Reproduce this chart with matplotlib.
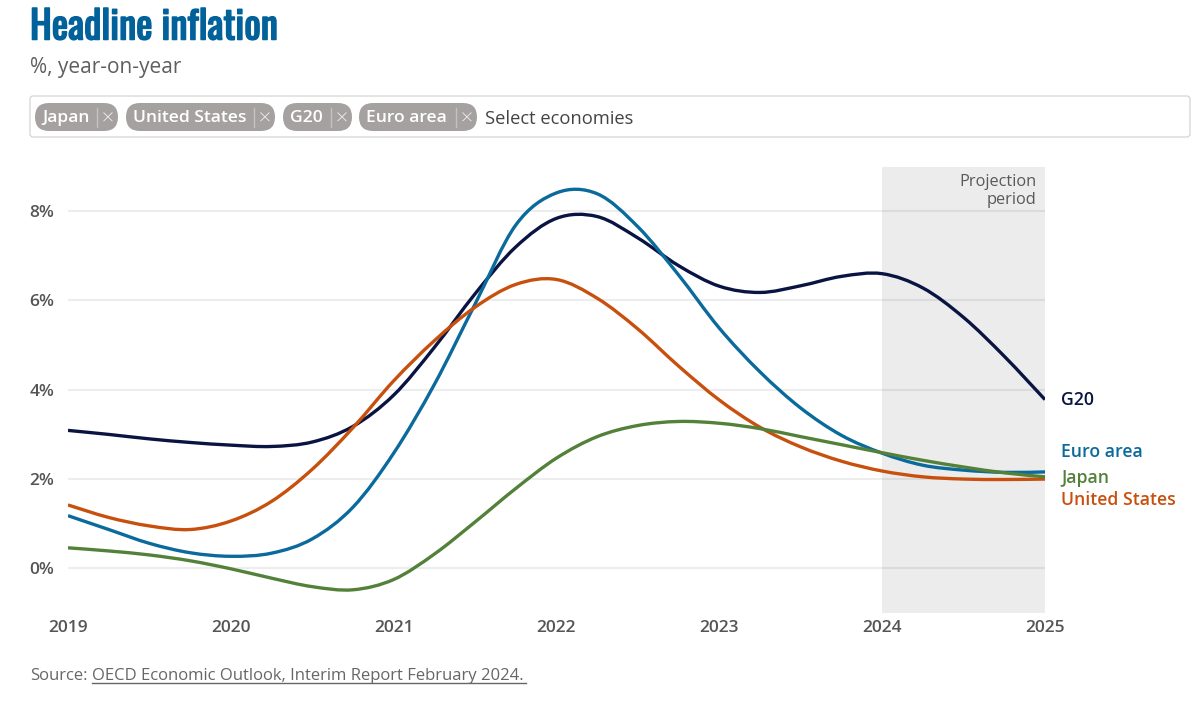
import matplotlib
matplotlib.use('Agg')
import matplotlib.pyplot as plt
import matplotlib.patheffects as pe
from matplotlib.patches import FancyBboxPatch, PathPatch
from matplotlib.path import Path
import numpy as np

# --- Data (quarterly) ---
quarters = [2019 + i * 0.25 for i in range(25)]
g20 = [3.09, 3.00, 2.90, 2.82, 2.76, 2.73, 2.83, 3.18, 3.88, 4.95, 6.15, 7.20, 7.84,
       7.88, 7.40, 6.78, 6.32, 6.18, 6.33, 6.54, 6.60, 6.28, 5.62, 4.75, 3.78]
euro_area = [1.18, 0.87, 0.56, 0.35, 0.27, 0.34, 0.66, 1.37, 2.58, 4.12, 5.92, 7.69, 8.41,
             8.39, 7.65, 6.57, 5.38, 4.40, 3.59, 2.98, 2.58, 2.31, 2.20, 2.15, 2.16]
united_states = [1.42, 1.14, 0.95, 0.87, 1.06, 1.50, 2.22, 3.15, 4.20, 5.10, 5.85, 6.36, 6.47,
                 6.05, 5.36, 4.53, 3.77, 3.16, 2.72, 2.40, 2.18, 2.05, 2.00, 1.99, 2.00]
japan = [0.46, 0.39, 0.30, 0.17, -0.01, -0.22, -0.41, -0.48, -0.25, 0.32, 1.04, 1.79, 2.47,
         2.95, 3.20, 3.29, 3.25, 3.13, 2.95, 2.77, 2.59, 2.42, 2.27, 2.14, 2.05]
years = [2019, 2020, 2021, 2022, 2023, 2024, 2025]
y_ticks = [0, 2, 4, 6, 8]
chips = ['Japan', 'United States', 'G20', 'Euro area']

W, H = 1197, 705
plt.rcParams['font.family'] = ['Open Sans', 'DejaVu Sans']


def smooth_path(xs, ys):
    # Catmull-Rom through the points, as bezier segments
    p = np.column_stack([xs, ys])
    verts = [p[0]]
    codes = [Path.MOVETO]
    for i in range(len(p) - 1):
        p0 = p[max(i - 1, 0)]
        p3 = p[min(i + 2, len(p) - 1)]
        verts += [p[i] + (p[i + 1] - p0) / 6, p[i + 1] - (p3 - p[i]) / 6, p[i + 1]]
        codes += [Path.CURVE4] * 3
    return Path(verts, codes)


fig = plt.figure(figsize=(W / 100, H / 100), dpi=100)

# chart area in pixels: x 68..1045, y 167..613
ax = fig.add_axes([68 / W, 1 - 613 / H, (1045 - 68) / W, (613 - 167) / H])
ax.set_xlim(2019, 2025)
ax.set_ylim(-1.0, 8.99)
for s in ax.spines.values():
    s.set_visible(False)

ax.axvspan(2024, 2025, color='#ececec', lw=0, zorder=0)
for v in y_ticks:
    ax.axhline(v, color='black', alpha=0.07, lw=1.5, zorder=1)

series = [('G20', g20, '#0a1442', 3.78),
          ('Euro area', euro_area, '#0b6a9c', 2.61),
          ('United States', united_states, '#c8500e', 1.52),
          ('Japan', japan, '#54813a', 2.03)]
for name, vals, col, label_y in series:
    ax.add_patch(PathPatch(smooth_path(quarters, vals), fc='none', ec=col, lw=2.4, zorder=3,
                           capstyle='butt'))
    ax.text(2025.1, label_y, name, color=col, fontsize=12.7, fontweight='semibold', va='center')

ax.set_xticks(years)
ax.set_xticklabels(years)
ax.set_yticks(y_ticks)
ax.set_yticklabels([f'{v}%' for v in y_ticks])
ax.tick_params(length=0, labelsize=12.5, labelcolor='#555555')
ax.tick_params(axis='x', pad=5)
ax.tick_params(axis='y', pad=10)
for t in ax.get_xticklabels() + ax.get_yticklabels():
    t.set_fontweight('semibold')
ax.text(2024.95, 8.83, 'Projection\nperiod', ha='right', va='top', fontsize=11.8, color='#595959',
        fontweight='medium', linespacing=1.18)

# overlay in pixel coordinates for the page furniture
ov = fig.add_axes([0, 0, 1, 1], zorder=5)
ov.set_xlim(0, W)
ov.set_ylim(H, 0)
ov.axis('off')
ov.patch.set_alpha(0)

title = ov.text(30, 27, 'Headline inflation', family=['Oswald', 'PT Sans Narrow', 'DejaVu Sans'],
                fontsize=28, color='#00619b', va='center')
# the installed Oswald only comes in the regular weight, so thicken it
title.set_path_effects([pe.withStroke(linewidth=1.1, foreground='#00619b')])
ov.text(30, 67, '%, year-on-year', fontsize=15, color='#5f5f5f', va='center')

ov.add_patch(FancyBboxPatch((30, 96), 1160, 41, boxstyle='round,pad=0,rounding_size=3',
                            fc='white', ec='#cfcfcf', lw=0.8))
chip_x = [(35, 118), (126, 275), (283, 352), (359, 477)]
for name, (x0, x1) in zip(chips, chip_x):
    ov.add_patch(FancyBboxPatch((x0, 103), x1 - x0, 28,
                                boxstyle='round,pad=0,rounding_size=14',
                                fc='#a5a1a1', ec='none'))
    ov.text(x0 + 7, 118.5, name, color='white', fontsize=12.6, fontweight='semibold', va='center')
    ov.plot([x1 - 21, x1 - 21], [108, 127], color='#c4c1c1', lw=1)
    ov.text(x1 - 10, 120, '×', color='#f2f2f2', fontsize=15, fontweight='light',
            ha='center', va='center')
ov.text(485, 119, 'Select economies', color='#444444', fontsize=13.2, fontweight='medium', va='center')

ov.text(30, 676.5, 'Source:', color='#666666', fontsize=12, va='center')
ov.text(92, 676.5, 'OECD Economic Outlook, Interim Report February 2024.', color='#666666',
        fontsize=12, va='center')
ov.plot([92, 526], [683, 683], color='#666666', lw=1)

fig.savefig('out.png', dpi=100)
